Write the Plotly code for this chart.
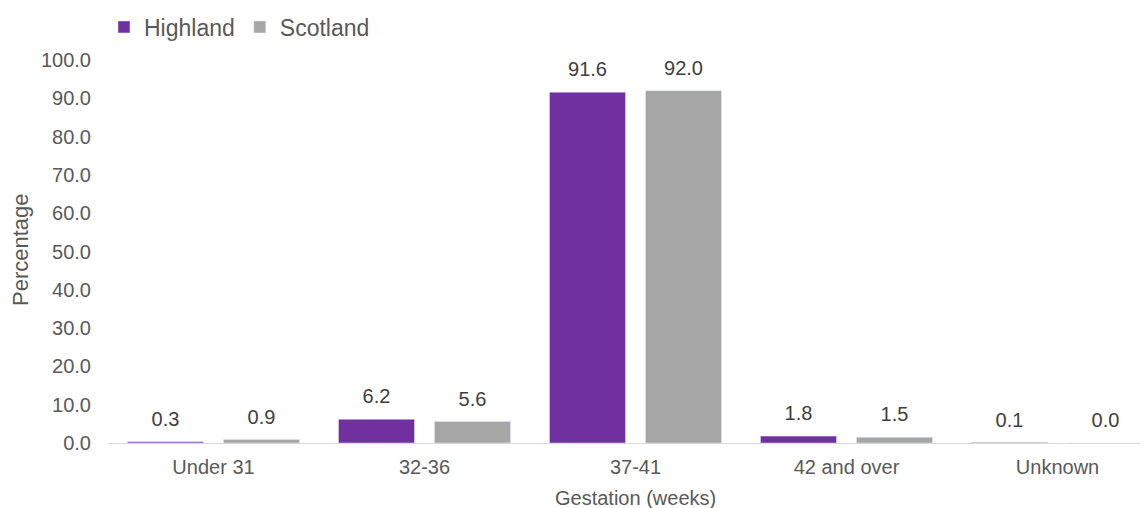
import plotly.graph_objects as go

categories = ["Under 31", "32-36", "37-41", "42 and over", "Unknown"]
highland = [0.3, 6.2, 91.6, 1.8, 0.1]
scotland = [0.9, 5.6, 92.0, 1.5, 0.0]
y_ticks = [0, 10, 20, 30, 40, 50, 60, 70, 80, 90, 100]
y_tick_labels = [f"{v:.1f}" for v in y_ticks]

FONT = "Liberation Sans, Arial, sans-serif"
TXT = "#595959"
OFF = 8  # page body margin
W, H = 1148 - OFF, 508 - OFF
L, R, T = 108 - OFF, 0, 60 - OFF
B = H - (443 - OFF)
PW = W - L - R
PH = H - T - B

fig = go.Figure()
fig.add_bar(x=categories, y=highland, name="Highland", marker_color="#7030A0",
            offsetgroup="h")
fig.add_bar(x=categories, y=scotland, name="Scotland", marker_color="#A6A6A6",
            offsetgroup="s")
for vals, grp in ((highland, "h"), (scotland, "s")):
    fig.add_scatter(x=categories, y=vals, mode="markers+text", offsetgroup=grp,
                    text=[f"{v:.1f}" for v in vals], textposition="top center",
                    marker=dict(size=16, color="rgba(0,0,0,0)"),
                    textfont=dict(size=20, color="#404040", family=FONT),
                    showlegend=False, hoverinfo="skip", cliponaxis=False)

fig.update_layout(
    width=W, height=H,
    margin=dict(l=L, r=R, t=T, b=B, autoexpand=False),
    paper_bgcolor="white", plot_bgcolor="white",
    barmode="group", bargap=0.09, bargroupgap=0.208,
    scattermode="group", scattergap=0.09,
    font=dict(family=FONT, size=20, color=TXT),
    showlegend=True,
    legend=dict(orientation="h", x=(104 - OFF) / W, xref="container", xanchor="left",
                y=1 - (27 - OFF) / H, yref="container", yanchor="middle",
                font=dict(size=23, color=TXT), traceorder="normal"),
    xaxis=dict(range=[-0.5, -0.5 + PW / 211], showgrid=False, showline=True, linecolor="#d9d9d9",
               linewidth=1, ticks="", ticklabelstandoff=6, tickfont=dict(size=20, color=TXT)),
    yaxis=dict(range=[0, 100], tickvals=y_ticks, ticktext=y_tick_labels, showgrid=False,
               zeroline=False, showline=False, ticklabelstandoff=16,
               tickfont=dict(size=20, color=TXT)),
    annotations=[
        dict(text="Gestation (weeks)", xref="paper", yref="paper",
             x=(635 - OFF - L) / PW, y=-(498 - 443) / PH, xanchor="center", yanchor="middle",
             showarrow=False, font=dict(size=20, color=TXT)),
        dict(text="Percentage", xref="paper", yref="paper", textangle=-90,
             x=-(L - (20 - OFF)) / PW, y=(443 - 250) / PH, xanchor="center", yanchor="middle",
             showarrow=False, font=dict(size=22, color=TXT)),
    ],
)

fig.write_html("out.html")
